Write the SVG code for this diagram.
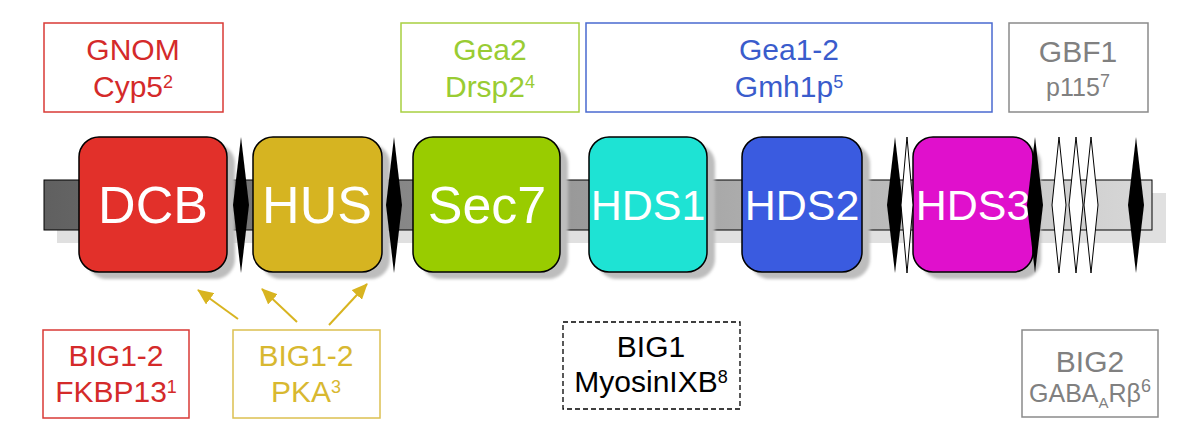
<svg xmlns="http://www.w3.org/2000/svg" width="1200" height="441" viewBox="0 0 1200 441">
<style>
text{font-family:"Liberation Sans",Arial,sans-serif;text-anchor:middle}
.big{font-size:52px;fill:#fff}
.hds{font-size:43px;fill:#fff}
.dom{stroke:#000;stroke-width:1.5}
.sh{fill:#bdbdbd}
.lbl{font-size:30px}
.sup{font-size:18px}
.blk{fill:#000}
.wht{fill:#fff;stroke:#000;stroke-width:1}
</style>
<defs>
<linearGradient id="barg" x1="0" y1="0" x2="1" y2="0">
<stop offset="0" stop-color="#606060"/>
<stop offset="1" stop-color="#d8d8d8"/>
</linearGradient>
<filter id="blur" x="-10%" y="-10%" width="120%" height="120%"><feGaussianBlur stdDeviation="1.5"/></filter>
<marker id="ah" markerUnits="userSpaceOnUse" markerWidth="16" markerHeight="14" refX="15" refY="7" orient="auto">
<path d="M0,0 L16,7 L0,14 z" fill="#d8b420"/>
</marker>
</defs>
<rect width="1200" height="441" fill="#fff"/>
<g id="backbone">
<rect x="57" y="193" width="1109" height="50" fill="#e0e0e0"/>
<rect x="44" y="180" width="1108" height="50" fill="url(#barg)" stroke="#000" stroke-width="1"/>
</g>
<g id="DCB">
<rect class="sh" x="87" y="144" width="148" height="135" rx="20" filter="url(#blur)"/>
<rect class="dom" x="79" y="137" width="148" height="135" rx="20" fill="#e2302a"/>
<text class="big" x="153" y="223">DCB</text>
</g>
<g id="HUS">
<rect class="sh" x="261" y="144" width="129" height="135" rx="20" filter="url(#blur)"/>
<rect class="dom" x="253" y="137" width="129" height="135" rx="20" fill="#d6b421"/>
<text class="big" x="317" y="223">HUS</text>
</g>
<g id="Sec7">
<rect class="sh" x="421" y="144" width="147" height="135" rx="20" filter="url(#blur)"/>
<rect class="dom" x="413" y="137" width="147" height="135" rx="20" fill="#99cc00"/>
<text class="big" x="487" y="223">Sec7</text>
</g>
<g id="HDS1">
<rect class="sh" x="597" y="144" width="118" height="135" rx="20" filter="url(#blur)"/>
<rect class="dom" x="589" y="137" width="118" height="135" rx="20" fill="#1ee3d4"/>
<text class="hds" x="648" y="220">HDS1</text>
</g>
<g id="HDS2">
<rect class="sh" x="750" y="144" width="120" height="135" rx="20" filter="url(#blur)"/>
<rect class="dom" x="742" y="137" width="120" height="135" rx="20" fill="#3a5be0"/>
<text class="hds" x="802" y="220">HDS2</text>
</g>
<g id="HDS3">
<rect class="sh" x="921" y="144" width="120" height="135" rx="20" filter="url(#blur)"/>
<rect class="dom" x="913" y="137" width="120" height="135" rx="20" fill="#e010cc"/>
<text class="hds" x="973" y="220">HDS3</text>
</g>
<g id="motifs">
<polygon class="blk" points="241,137 249,205 241,273 233,205"/>
<polygon class="blk" points="394,137 402,205 394,273 386,205"/>
<polygon class="blk" points="895,137 903,205 895,273 887,205"/>
<polygon class="wht" points="907,137 913,205 907,273 901,205"/>
<polygon class="blk" points="1035,137 1043,205 1035,273 1027,205"/>
<polygon class="wht" points="1059,137 1066,205 1059,273 1052,205"/>
<polygon class="wht" points="1076,137 1083,205 1076,273 1069,205"/>
<polygon class="wht" points="1091,137 1098,205 1091,273 1084,205"/>
<polygon class="blk" points="1136,137 1144,205 1136,273 1128,205"/>
</g>
<g id="GNOM">
<rect x="44" y="23" width="179" height="89" fill="none" stroke="#d93a36" stroke-width="1.5"/>
<text class="lbl" x="133" y="60" fill="#d42a2a">GNOM</text>
<text class="lbl" x="133" y="97" fill="#d42a2a">Cyp5<tspan class="sup" dy="-9">2</tspan></text>
</g>
<g id="Gea2">
<rect x="401" y="23" width="178" height="89" fill="none" stroke="#a8d040" stroke-width="1.5"/>
<text class="lbl" x="490" y="60" fill="#99cc33">Gea2</text>
<text class="lbl" x="490" y="97" fill="#99cc33">Drsp2<tspan class="sup" dy="-9">4</tspan></text>
</g>
<g id="Gea1-2">
<rect x="586" y="23" width="406" height="89" fill="none" stroke="#4a6ad0" stroke-width="1.5"/>
<text class="lbl" x="789" y="60" fill="#3a5ccc">Gea1-2</text>
<text class="lbl" x="789" y="97" fill="#3a5ccc">Gmh1p<tspan class="sup" dy="-9">5</tspan></text>
</g>
<g id="GBF1">
<rect x="1009" y="23" width="139" height="89" fill="none" stroke="#8a8a8a" stroke-width="1.5"/>
<text class="lbl" x="1078" y="62" fill="#808080">GBF1</text>
<text x="1078" y="96" fill="#808080" font-size="25">p115<tspan class="sup" dy="-9">7</tspan></text>
</g>
<g id="BIG1-2-FKBP13">
<rect x="43" y="330" width="146" height="88" fill="none" stroke="#d93a36" stroke-width="1.5"/>
<text class="lbl" x="116" y="366" fill="#d42a2a">BIG1-2</text>
<text class="lbl" x="116" y="402" fill="#d42a2a">FKBP13<tspan class="sup" dy="-9">1</tspan></text>
</g>
<g id="BIG1-2-PKA">
<rect x="233" y="330" width="147" height="88" fill="none" stroke="#dcc050" stroke-width="1.5"/>
<text class="lbl" x="306" y="366" fill="#d8b830">BIG1-2</text>
<text class="lbl" x="306" y="402" fill="#d8b830">PKA<tspan class="sup" dy="-9">3</tspan></text>
</g>
<g id="BIG1-MyosinIXB">
<rect x="563" y="322" width="177" height="87" fill="none" stroke="#000" stroke-width="1.3" stroke-dasharray="5,3"/>
<text class="lbl" x="651" y="357" fill="#000">BIG1</text>
<text class="lbl" x="651" y="392" fill="#000">MyosinIXB<tspan class="sup" dy="-9">8</tspan></text>
</g>
<g id="BIG2">
<rect x="1022" y="330" width="136" height="87" fill="none" stroke="#8a8a8a" stroke-width="1.5"/>
<text class="lbl" x="1090" y="372" fill="#808080">BIG2</text>
<text x="1090" y="402" fill="#808080" font-size="25">GABA<tspan font-size="15" dy="6">A</tspan><tspan dy="-6">Rβ</tspan><tspan class="sup" dy="-10">6</tspan></text>
</g>
<g id="connectors" stroke="#d8b420" stroke-width="2" fill="none">
<line x1="238" y1="319" x2="198" y2="290" marker-end="url(#ah)"/>
<line x1="297" y1="322" x2="262" y2="289" marker-end="url(#ah)"/>
<line x1="329" y1="325" x2="367" y2="284" marker-end="url(#ah)"/>
</g>
</svg>
